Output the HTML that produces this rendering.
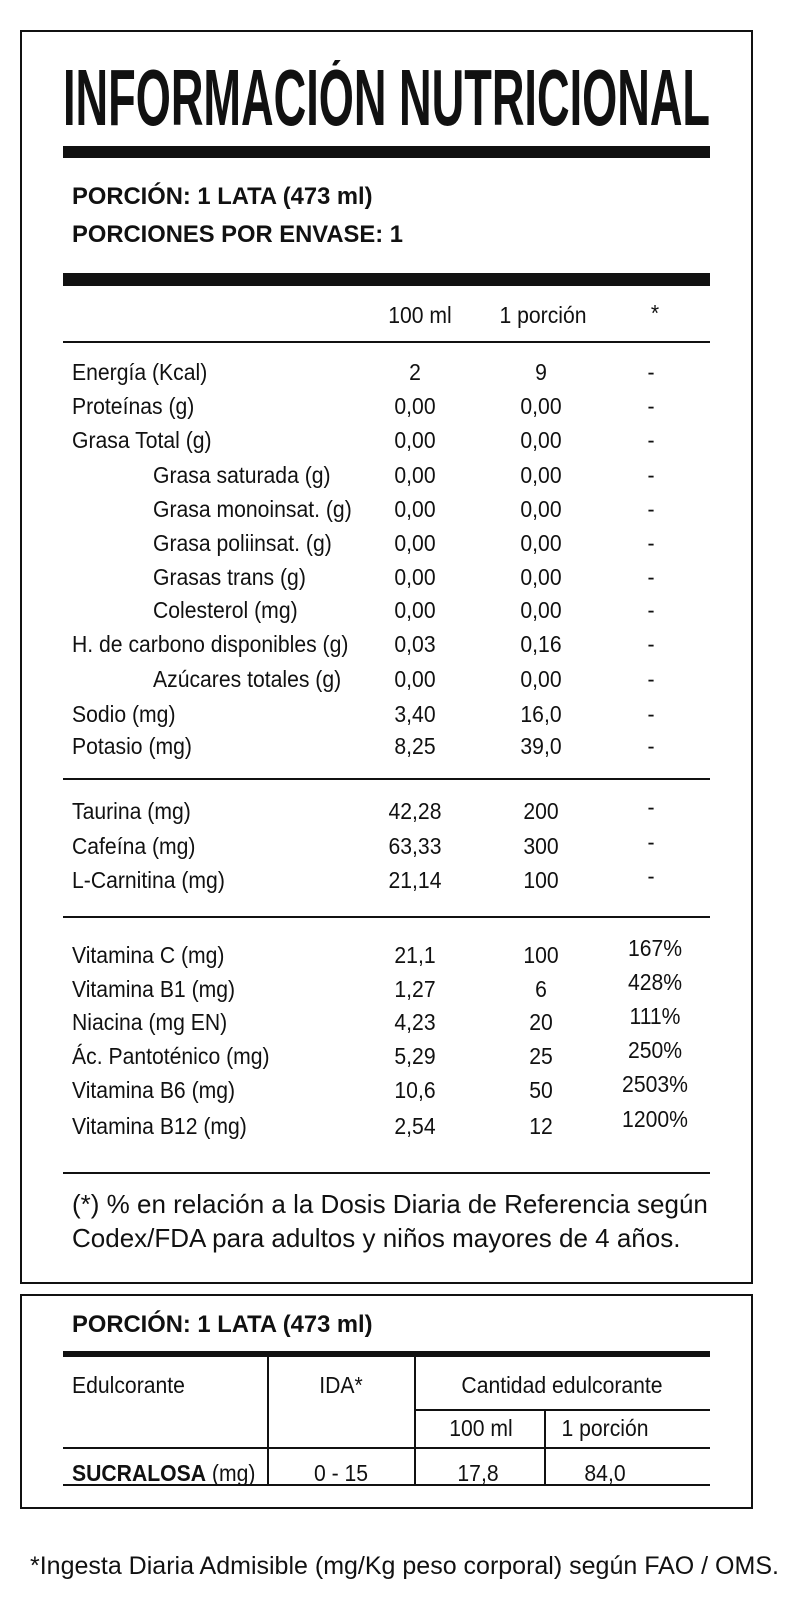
<!DOCTYPE html>
<html><head><meta charset="utf-8">
<style>
html,body{margin:0;padding:0;background:#fff;}
body{width:786px;height:1600px;position:relative;overflow:hidden;font-family:"Liberation Sans",sans-serif;color:#111;}
.a{position:absolute;white-space:nowrap;line-height:1;}
.box{position:absolute;border:2px solid #111;box-sizing:border-box;}
.bar{position:absolute;background:#111;}
.t{font-size:23px;transform:scaleX(0.92);transform-origin:left top;}
.t.c{transform:translateX(-50%) scaleX(0.92);transform-origin:center top;}
.b{font-weight:bold;}
.h{font-size:24px;transform:scaleX(0.99);transform-origin:left top;}
</style></head><body>
<div class="box" style="left:20px;top:30px;width:733px;height:1254px;"></div>
<svg style="position:absolute;left:63px;top:60px;" width="650" height="75"><text x="0" y="65" font-family="Liberation Sans" font-weight="bold" font-size="80" textLength="647" lengthAdjust="spacingAndGlyphs" fill="#111">INFORMACIÓN NUTRICIONAL</text></svg>
<div class="bar" style="left:63px;top:146px;width:647px;height:12px;"></div>
<div class="a b h" style="left:72px;top:185px;">PORCIÓN: 1 LATA (473 ml)</div>
<div class="a b h" style="left:72px;top:223px;">PORCIONES POR ENVASE: 1</div>
<div class="bar" style="left:63px;top:273px;width:647px;height:13px;"></div>
<div class="a t c" style="left:420px;top:304px;">100 ml</div>
<div class="a t c" style="left:543px;top:304px;">1 porción</div>
<div class="a t c" style="left:655px;top:302px;">*</div>
<div class="bar" style="left:63px;top:341px;width:647px;height:2px;"></div>

<div class="a t" style="left:72px;top:361px;">Energía (Kcal)</div><div class="a t c" style="left:415px;top:361px;">2</div><div class="a t c" style="left:541px;top:361px;">9</div><div class="a t c" style="left:651px;top:361px;">-</div>
<div class="a t" style="left:72px;top:395px;">Proteínas (g)</div><div class="a t c" style="left:415px;top:395px;">0,00</div><div class="a t c" style="left:541px;top:395px;">0,00</div><div class="a t c" style="left:651px;top:395px;">-</div>
<div class="a t" style="left:72px;top:429px;">Grasa Total (g)</div><div class="a t c" style="left:415px;top:429px;">0,00</div><div class="a t c" style="left:541px;top:429px;">0,00</div><div class="a t c" style="left:651px;top:429px;">-</div>
<div class="a t" style="left:153px;top:464px;">Grasa saturada (g)</div><div class="a t c" style="left:415px;top:464px;">0,00</div><div class="a t c" style="left:541px;top:464px;">0,00</div><div class="a t c" style="left:651px;top:464px;">-</div>
<div class="a t" style="left:153px;top:498px;">Grasa monoinsat. (g)</div><div class="a t c" style="left:415px;top:498px;">0,00</div><div class="a t c" style="left:541px;top:498px;">0,00</div><div class="a t c" style="left:651px;top:498px;">-</div>
<div class="a t" style="left:153px;top:532px;">Grasa poliinsat. (g)</div><div class="a t c" style="left:415px;top:532px;">0,00</div><div class="a t c" style="left:541px;top:532px;">0,00</div><div class="a t c" style="left:651px;top:532px;">-</div>
<div class="a t" style="left:153px;top:566px;">Grasas trans (g)</div><div class="a t c" style="left:415px;top:566px;">0,00</div><div class="a t c" style="left:541px;top:566px;">0,00</div><div class="a t c" style="left:651px;top:566px;">-</div>
<div class="a t" style="left:153px;top:599px;">Colesterol (mg)</div><div class="a t c" style="left:415px;top:599px;">0,00</div><div class="a t c" style="left:541px;top:599px;">0,00</div><div class="a t c" style="left:651px;top:599px;">-</div>
<div class="a t" style="left:72px;top:633px;">H. de carbono disponibles (g)</div><div class="a t c" style="left:415px;top:633px;">0,03</div><div class="a t c" style="left:541px;top:633px;">0,16</div><div class="a t c" style="left:651px;top:633px;">-</div>
<div class="a t" style="left:153px;top:668px;">Azúcares totales (g)</div><div class="a t c" style="left:415px;top:668px;">0,00</div><div class="a t c" style="left:541px;top:668px;">0,00</div><div class="a t c" style="left:651px;top:668px;">-</div>
<div class="a t" style="left:72px;top:703px;">Sodio (mg)</div><div class="a t c" style="left:415px;top:703px;">3,40</div><div class="a t c" style="left:541px;top:703px;">16,0</div><div class="a t c" style="left:651px;top:703px;">-</div>
<div class="a t" style="left:72px;top:735px;">Potasio (mg)</div><div class="a t c" style="left:415px;top:735px;">8,25</div><div class="a t c" style="left:541px;top:735px;">39,0</div><div class="a t c" style="left:651px;top:735px;">-</div>
<div class="bar" style="left:63px;top:778px;width:647px;height:2px;"></div>

<div class="a t" style="left:72px;top:800px;">Taurina (mg)</div><div class="a t c" style="left:415px;top:800px;">42,28</div><div class="a t c" style="left:541px;top:800px;">200</div><div class="a t c" style="left:651px;top:796px;">-</div>
<div class="a t" style="left:72px;top:835px;">Cafeína (mg)</div><div class="a t c" style="left:415px;top:835px;">63,33</div><div class="a t c" style="left:541px;top:835px;">300</div><div class="a t c" style="left:651px;top:831px;">-</div>
<div class="a t" style="left:72px;top:869px;">L-Carnitina (mg)</div><div class="a t c" style="left:415px;top:869px;">21,14</div><div class="a t c" style="left:541px;top:869px;">100</div><div class="a t c" style="left:651px;top:865px;">-</div>
<div class="bar" style="left:63px;top:916px;width:647px;height:2px;"></div>

<div class="a t" style="left:72px;top:944px;">Vitamina C (mg)</div><div class="a t c" style="left:415px;top:944px;">21,1</div><div class="a t c" style="left:541px;top:944px;">100</div><div class="a t c" style="left:655px;top:937px;">167%</div>
<div class="a t" style="left:72px;top:978px;">Vitamina B1 (mg)</div><div class="a t c" style="left:415px;top:978px;">1,27</div><div class="a t c" style="left:541px;top:978px;">6</div><div class="a t c" style="left:655px;top:971px;">428%</div>
<div class="a t" style="left:72px;top:1011px;">Niacina (mg EN)</div><div class="a t c" style="left:415px;top:1011px;">4,23</div><div class="a t c" style="left:541px;top:1011px;">20</div><div class="a t c" style="left:655px;top:1005px;">111%</div>
<div class="a t" style="left:72px;top:1045px;">Ác. Pantoténico (mg)</div><div class="a t c" style="left:415px;top:1045px;">5,29</div><div class="a t c" style="left:541px;top:1045px;">25</div><div class="a t c" style="left:655px;top:1039px;">250%</div>
<div class="a t" style="left:72px;top:1079px;">Vitamina B6 (mg)</div><div class="a t c" style="left:415px;top:1079px;">10,6</div><div class="a t c" style="left:541px;top:1079px;">50</div><div class="a t c" style="left:655px;top:1073px;">2503%</div>
<div class="a t" style="left:72px;top:1115px;">Vitamina B12 (mg)</div><div class="a t c" style="left:415px;top:1115px;">2,54</div><div class="a t c" style="left:541px;top:1115px;">12</div><div class="a t c" style="left:655px;top:1108px;">1200%</div>
<div class="bar" style="left:63px;top:1172px;width:647px;height:2px;"></div>

<div class="a" style="left:72px;top:1191px;font-size:26px;">(*) % en relación a la Dosis Diaria de Referencia según</div>
<div class="a" style="left:72px;top:1225px;font-size:26px;">Codex/FDA para adultos y niños mayores de 4 años.</div>

<div class="box" style="left:20px;top:1294px;width:733px;height:215px;"></div>
<div class="a b h" style="left:72px;top:1313px;">PORCIÓN: 1 LATA (473 ml)</div>
<div class="bar" style="left:63px;top:1351px;width:647px;height:6px;"></div>
<div class="bar" style="left:267px;top:1357px;width:2px;height:129px;"></div>
<div class="bar" style="left:414px;top:1357px;width:2px;height:129px;"></div>
<div class="bar" style="left:544px;top:1410px;width:2px;height:76px;"></div>
<div class="bar" style="left:415px;top:1409px;width:295px;height:2px;"></div>
<div class="bar" style="left:63px;top:1447px;width:647px;height:2px;"></div>
<div class="bar" style="left:63px;top:1484px;width:647px;height:2px;"></div>
<div class="a t" style="left:72px;top:1374px;">Edulcorante</div>
<div class="a t c" style="left:341px;top:1374px;">IDA*</div>
<div class="a t c" style="left:562px;top:1374px;">Cantidad edulcorante</div>
<div class="a t c" style="left:481px;top:1417px;">100 ml</div>
<div class="a t c" style="left:605px;top:1417px;">1 porción</div>
<div class="a t" style="left:72px;top:1462px;"><b>SUCRALOSA</b> (mg)</div>
<div class="a t c" style="left:341px;top:1462px;">0 - 15</div>
<div class="a t c" style="left:478px;top:1462px;">17,8</div>
<div class="a t c" style="left:605px;top:1462px;">84,0</div>
<div class="a" style="left:30px;top:1554px;font-size:25px;">*Ingesta Diaria Admisible (mg/Kg peso corporal) según FAO / OMS.</div>
</body></html>
